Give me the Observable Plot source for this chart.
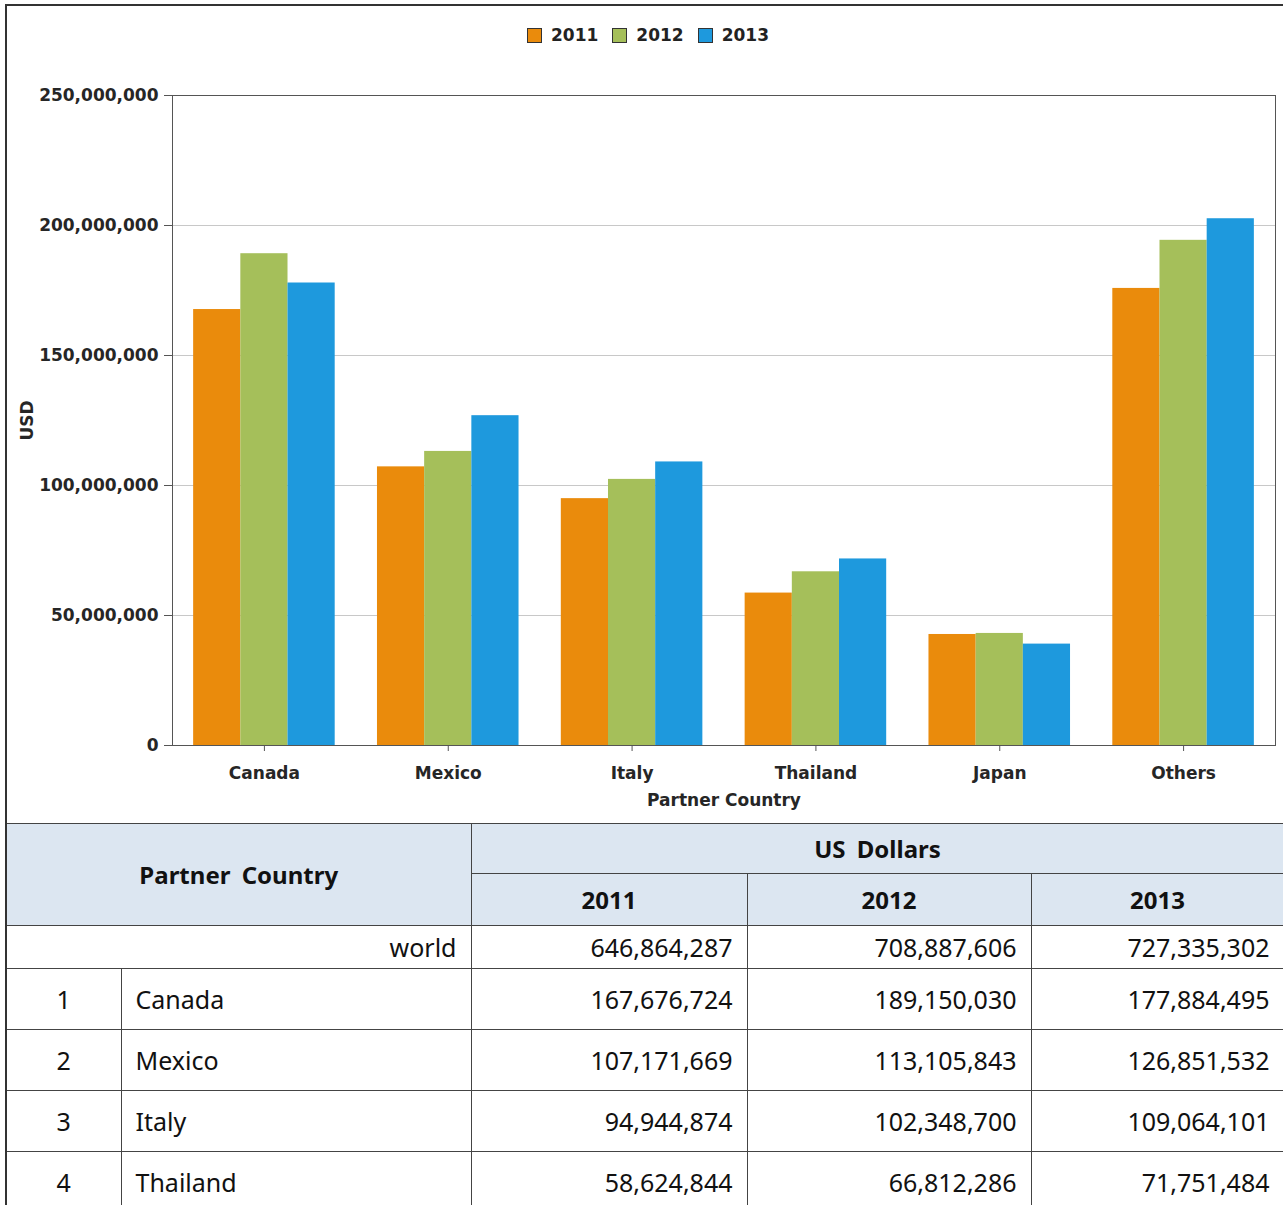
<!DOCTYPE html>
<html><head><meta charset="utf-8">
<script src="https://cdn.jsdelivr.net/npm/d3@7"></script>
<script src="https://cdn.jsdelivr.net/npm/@observablehq/plot@0.6"></script>
<style>
html,body{margin:0;padding:0;background:#fff;}
body{width:1283px;height:1205px;overflow:hidden;position:relative;}
#wrap{position:absolute;left:5px;top:4px;width:1300px;border-left:2px solid #333;border-top:2px solid #333;}
#legend{width:1282px;height:58px;display:flex;justify-content:center;align-items:center;font:bold 17px "DejaVu Sans",sans-serif;color:#222;}
#legend .item{display:flex;align-items:center;margin:0 7px;}
#legend .sw{width:13px;height:13px;border:1.5px solid #333;margin-right:9px;}
#chart svg{display:block;}
table{border-collapse:collapse;table-layout:fixed;font-family:"Noto Sans",sans-serif;font-size:25px;color:#111;}
td,th{border:1px solid #444;padding:0 14px;overflow:hidden;white-space:nowrap;}
th{background:#dce6f1;font-weight:bold;font-size:24px;word-spacing:5px;text-align:center;}
td.num{text-align:right;}
td.rank{text-align:center;}
tr.h1{height:50px}
tr.h2{height:52px}
tr.world{height:43px}
tr.row{height:61px}
table tr td:first-child, table tr th:first-child{border-left:none;}
</style>
</head><body>
<div id="wrap">
  <div id="legend"></div>
  <div id="chart"></div>
  <div id="table"></div>
</div>
<script>
// ---- data ----
const countries = ["Canada", "Mexico", "Italy", "Thailand", "Japan", "Others"];
const years = ["2011", "2012", "2013"];
const v2011 = [167676724, 107171669, 94944874, 58624844, 42700000, 175800000];
const v2012 = [189150030, 113105843, 102348700, 66812286, 43100000, 194300000];
const v2013 = [177884495, 126851532, 109064101, 71751484, 39000000, 202600000];
const yTicks = [0, 50000000, 100000000, 150000000, 200000000, 250000000];
const colors = ["#ea8b0c", "#a5bf5a", "#1e99dd"];
const yLabel = "USD";
const xLabel = "Partner Country";

// table
const worldLabel = "world";
const worldTotals = [646864287, 708887606, 727335302];
const tableRanks = ["1", "2", "3", "4"];
const tableCountries = ["Canada", "Mexico", "Italy", "Thailand"];
const t2011 = [167676724, 107171669, 94944874, 58624844];
const t2012 = [189150030, 113105843, 102348700, 66812286];
const t2013 = [177884495, 126851532, 109064101, 71751484];

const series = [v2011, v2012, v2013];
const data = countries.flatMap((c, i) => years.map((y, j) => ({country: c, year: y, value: series[j][i]})));

// ---- legend ----
const legend = d3.select("#legend");
years.forEach((y, j) => {
  const it = legend.append("div").attr("class", "item");
  it.append("div").attr("class", "sw").style("background", colors[j]);
  it.append("span").text(y);
});

// ---- chart ----
const W = 1276, H = 759, mL = 165, mR = 8, mT = 31, mB = 78;
const pi = 0.23, po = 0.115;
const step = (W - mL - mR) / (countries.length - pi + 2 * po);
const barW = step * (1 - pi) / years.length;

const chart = Plot.plot({
  width: W, height: H,
  marginLeft: mL, marginRight: mR, marginTop: mT, marginBottom: mB,
  style: {fontFamily: "DejaVu Sans, sans-serif", fontWeight: "bold", fontSize: "17px", color: "#262626", background: "transparent"},
  x: {domain: countries, paddingInner: pi, paddingOuter: po, round: false, label: null},
  y: {domain: [0, 250000000], label: null},
  color: {domain: years, range: colors},
  marks: [
    Plot.gridY(yTicks, {stroke: "#c8c8c8", strokeOpacity: 1}),
    ...years.map((yr, j) => Plot.barY(data.filter(d => d.year === yr), {
      x: "country", y: "value", fill: "year",
      insetLeft: j * barW, insetRight: (years.length - 1 - j) * barW
    })),
    Plot.frame({stroke: "#555"}),
    Plot.axisY(yTicks, {tickFormat: d3.format(","), tickSize: 8, tickPadding: 6, stroke: "#555", label: null}),
    Plot.axisX({tickSize: 6, tickPadding: 15, stroke: "#555", label: null}),
    Plot.text([yLabel], {frameAnchor: "left", textAnchor: "middle", dx: -145, rotate: -90, text: d => d, fill: "#262626"}),
    Plot.text([xLabel], {frameAnchor: "bottom", dy: 60, text: d => d, fill: "#262626"})
  ]
});
document.getElementById("chart").appendChild(chart);

// ---- table ----
const fmt = d3.format(",");
const table = d3.select("#table").append("table");
const cg = table.append("colgroup");
[114, 350, 276, 284, 253].forEach(w => cg.append("col").style("width", w + "px"));
const tb = table.append("tbody");
const h1 = tb.append("tr").attr("class", "h1");
h1.append("th").attr("colspan", 2).attr("rowspan", 2).text("Partner Country");
h1.append("th").attr("colspan", 3).text("US Dollars");
const h2 = tb.append("tr").attr("class", "h2");
years.forEach(y => h2.append("th").text(y));
const wr = tb.append("tr").attr("class", "world");
wr.append("td").attr("colspan", 2).attr("class", "num").text(worldLabel);
worldTotals.forEach(v => wr.append("td").attr("class", "num").text(fmt(v)));
tableCountries.forEach((c, i) => {
  const r = tb.append("tr").attr("class", "row");
  r.append("td").attr("class", "rank").text(tableRanks[i]);
  r.append("td").text(c);
  [t2011, t2012, t2013].forEach(arr => r.append("td").attr("class", "num").text(fmt(arr[i])));
});
</script>
</body></html>
